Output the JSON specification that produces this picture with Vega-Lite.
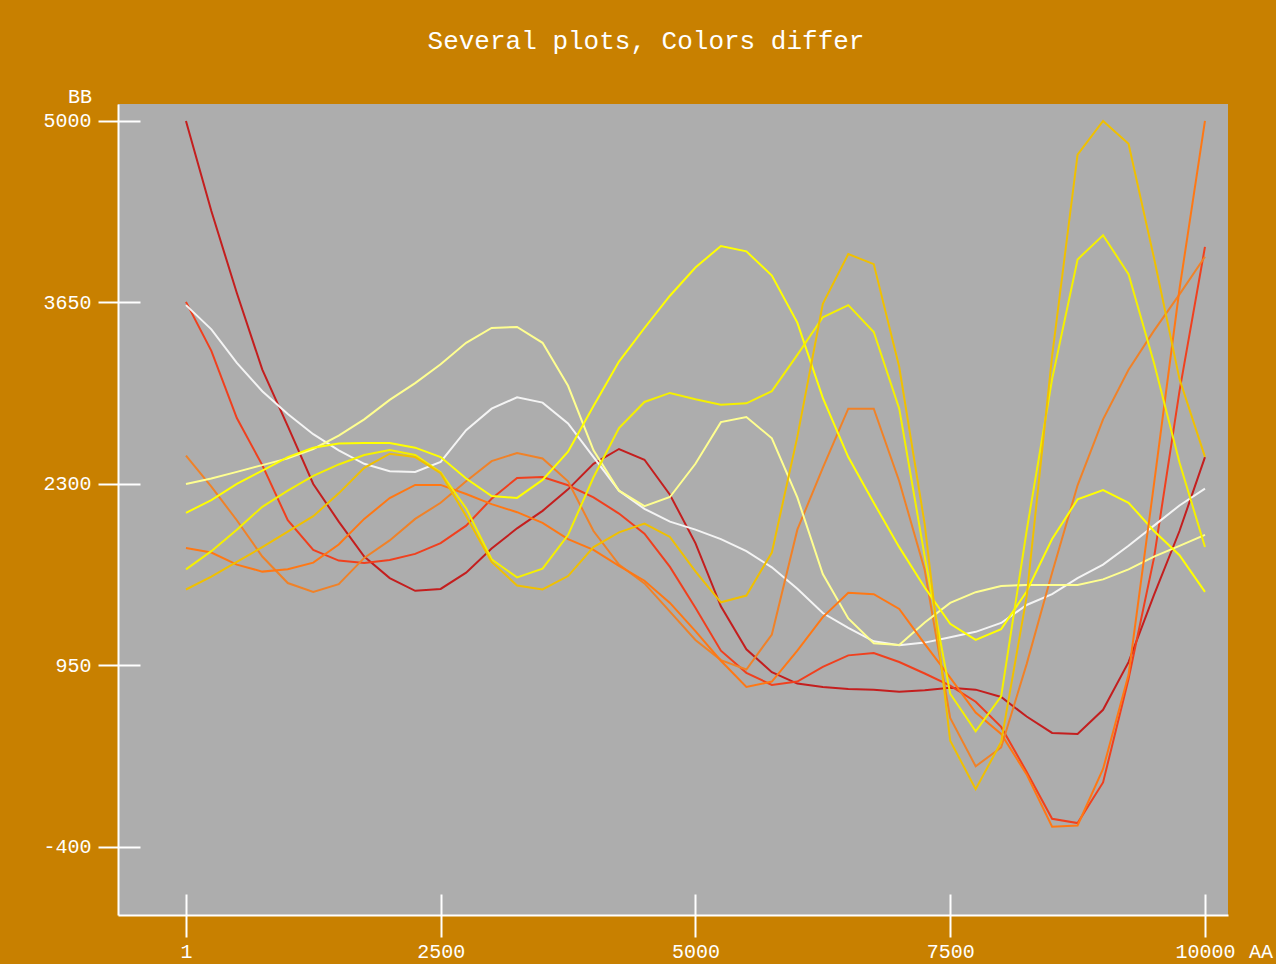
{
  "$schema": "https://vega.github.io/schema/vega-lite/v6.json",
  "width": 1110,
  "height": 811,
  "autosize": {"type": "none"},
  "padding": {"left": 118, "top": 104, "right": 48, "bottom": 49},
  "background": "#C88000",
  "config": {"view": {"fill": "#ADADAD", "stroke": null}, "font": "Liberation Mono"},
  "title": {
    "text": "Several plots, Colors differ",
    "color": "#FFFFFF",
    "font": "Liberation Mono",
    "fontSize": 26,
    "fontWeight": "normal",
    "anchor": "middle",
    "baseline": "alphabetic",
    "offset": 12,
    "dx": -27
  },
  "data": {
    "values": [
      {"x": 1, "c1": 5000, "c2": 3654, "c3": 3630, "c4": 2510, "c5": 2300, "c6": 2085, "c7": 1824, "c8": 1665, "c9": 1515},
      {"x": 250, "c1": 4330, "c2": 3290, "c3": 3450, "c4": 2280, "c5": 2340, "c6": 2180, "c7": 1790, "c8": 1800, "c9": 1610},
      {"x": 500, "c1": 3720, "c2": 2790, "c3": 3200, "c4": 2030, "c5": 2390, "c6": 2300, "c7": 1700, "c8": 1960, "c9": 1720},
      {"x": 750, "c1": 3150, "c2": 2440, "c3": 2990, "c4": 1760, "c5": 2440, "c6": 2400, "c7": 1648, "c8": 2130, "c9": 1830},
      {"x": 1000, "c1": 2730, "c2": 2030, "c3": 2820, "c4": 1563, "c5": 2490, "c6": 2500, "c7": 1665, "c8": 2250, "c9": 1945},
      {"x": 1250, "c1": 2300, "c2": 1810, "c3": 2670, "c4": 1497, "c5": 2560, "c6": 2570, "c7": 1715, "c8": 2360, "c9": 2060},
      {"x": 1500, "c1": 2020, "c2": 1730, "c3": 2550, "c4": 1555, "c5": 2660, "c6": 2600, "c7": 1850, "c8": 2445, "c9": 2230},
      {"x": 1750, "c1": 1760, "c2": 1712, "c3": 2450, "c4": 1750, "c5": 2780, "c6": 2605, "c7": 2040, "c8": 2515, "c9": 2420},
      {"x": 2000, "c1": 1600, "c2": 1735, "c3": 2395, "c4": 1880, "c5": 2925, "c6": 2605, "c7": 2195, "c8": 2553, "c9": 2525},
      {"x": 2250, "c1": 1505, "c2": 1780, "c3": 2389, "c4": 2040, "c5": 3050, "c6": 2570, "c7": 2293, "c8": 2515, "c9": 2500},
      {"x": 2500, "c1": 1519, "c2": 1860, "c3": 2464, "c4": 2160, "c5": 3190, "c6": 2500, "c7": 2293, "c8": 2385, "c9": 2380},
      {"x": 2750, "c1": 1640, "c2": 1990, "c3": 2700, "c4": 2320, "c5": 3350, "c6": 2340, "c7": 2225, "c8": 2120, "c9": 2060},
      {"x": 3000, "c1": 1820, "c2": 2190, "c3": 2860, "c4": 2470, "c5": 3460, "c6": 2210, "c7": 2150, "c8": 1740, "c9": 1720},
      {"x": 3250, "c1": 1970, "c2": 2345, "c3": 2945, "c4": 2530, "c5": 3468, "c6": 2196, "c7": 2090, "c8": 1605, "c9": 1545},
      {"x": 3500, "c1": 2100, "c2": 2352, "c3": 2905, "c4": 2490, "c5": 3350, "c6": 2330, "c7": 2010, "c8": 1670, "c9": 1515},
      {"x": 3750, "c1": 2260, "c2": 2290, "c3": 2750, "c4": 2320, "c5": 3030, "c6": 2540, "c7": 1890, "c8": 1920, "c9": 1615},
      {"x": 4000, "c1": 2450, "c2": 2200, "c3": 2500, "c4": 1950, "c5": 2550, "c6": 2880, "c7": 1810, "c8": 2350, "c9": 1830},
      {"x": 4250, "c1": 2560, "c2": 2080, "c3": 2250, "c4": 1700, "c5": 2250, "c6": 3210, "c7": 1690, "c8": 2715, "c9": 1940},
      {"x": 4500, "c1": 2480, "c2": 1930, "c3": 2115, "c4": 1560, "c5": 2135, "c6": 3460, "c7": 1580, "c8": 2910, "c9": 2005},
      {"x": 4750, "c1": 2220, "c2": 1683, "c3": 2020, "c4": 1350, "c5": 2203, "c6": 3700, "c7": 1415, "c8": 2977, "c9": 1906},
      {"x": 5000, "c1": 1860, "c2": 1380, "c3": 1960, "c4": 1140, "c5": 2450, "c6": 3910, "c7": 1205, "c8": 2930, "c9": 1650},
      {"x": 5250, "c1": 1390, "c2": 1060, "c3": 1890, "c4": 990, "c5": 2760, "c6": 4070, "c7": 985, "c8": 2890, "c9": 1420},
      {"x": 5500, "c1": 1070, "c2": 895, "c3": 1800, "c4": 920, "c5": 2798, "c6": 4030, "c7": 790, "c8": 2900, "c9": 1470},
      {"x": 5750, "c1": 900, "c2": 805, "c3": 1680, "c4": 1180, "c5": 2640, "c6": 3850, "c7": 830, "c8": 2990, "c9": 1790},
      {"x": 6000, "c1": 815, "c2": 830, "c3": 1520, "c4": 1960, "c5": 2200, "c6": 3500, "c7": 1060, "c8": 3260, "c9": 2650},
      {"x": 6250, "c1": 790, "c2": 939, "c3": 1340, "c4": 2420, "c5": 1630, "c6": 2940, "c7": 1310, "c8": 3540, "c9": 3640},
      {"x": 6500, "c1": 775, "c2": 1025, "c3": 1230, "c4": 2860, "c5": 1300, "c6": 2500, "c7": 1490, "c8": 3630, "c9": 4010},
      {"x": 6750, "c1": 770, "c2": 1043, "c3": 1130, "c4": 2860, "c5": 1115, "c6": 2160, "c7": 1480, "c8": 3430, "c9": 3935},
      {"x": 7000, "c1": 755, "c2": 976, "c3": 1100, "c4": 2320, "c5": 1103, "c6": 1830, "c7": 1370, "c8": 2860, "c9": 3170},
      {"x": 7250, "c1": 765, "c2": 890, "c3": 1120, "c4": 1660, "c5": 1270, "c6": 1530, "c7": 1110, "c8": 1760, "c9": 2000},
      {"x": 7500, "c1": 785, "c2": 800, "c3": 1160, "c4": 560, "c5": 1415, "c6": 1260, "c7": 860, "c8": 740, "c9": 390},
      {"x": 7750, "c1": 770, "c2": 680, "c3": 1200, "c4": 200, "c5": 1495, "c6": 1140, "c7": 600, "c8": 460, "c9": 30},
      {"x": 8000, "c1": 716, "c2": 493, "c3": 1266, "c4": 340, "c5": 1541, "c6": 1220, "c7": 440, "c8": 720, "c9": 380},
      {"x": 8250, "c1": 570, "c2": 160, "c3": 1400, "c4": 960, "c5": 1549, "c6": 1500, "c7": 140, "c8": 1950, "c9": 1460},
      {"x": 8500, "c1": 448, "c2": -190, "c3": 1480, "c4": 1640, "c5": 1549, "c6": 1890, "c7": -250, "c8": 3080, "c9": 3250},
      {"x": 8750, "c1": 440, "c2": -222, "c3": 1600, "c4": 2290, "c5": 1549, "c6": 2185, "c7": -240, "c8": 3970, "c9": 4750},
      {"x": 9000, "c1": 620, "c2": 80, "c3": 1700, "c4": 2780, "c5": 1590, "c6": 2255, "c7": 180, "c8": 4150, "c9": 5000},
      {"x": 9250, "c1": 975, "c2": 850, "c3": 1840, "c4": 3150, "c5": 1665, "c6": 2160, "c7": 880, "c8": 3860, "c9": 4830},
      {"x": 9500, "c1": 1475, "c2": 1750, "c3": 1990, "c4": 3440, "c5": 1760, "c6": 1950, "c7": 2300, "c8": 3200, "c9": 3980},
      {"x": 9750, "c1": 1950, "c2": 2990, "c3": 2140, "c4": 3710, "c5": 1840, "c6": 1770, "c7": 3750, "c8": 2460, "c9": 3080},
      {"x": 10000, "c1": 2500, "c2": 4063, "c3": 2265, "c4": 3990, "c5": 1921, "c6": 1497, "c7": 5000, "c8": 1831, "c9": 2501}
    ]
  },
  "transform": [{"fold": ["c1", "c2", "c3", "c4", "c5", "c6", "c7", "c8", "c9"], "as": ["series", "value"]}],
  "resolve": {"axis": {"x": "independent", "y": "independent"}},
  "layer": [
    {
      "mark": {"type": "line", "strokeWidth": 2, "clip": true},
      "encoding": {
        "x": {
          "field": "x", "type": "quantitative",
          "scale": {"domain": [-666, 10226], "nice": false, "zero": false},
          "axis": {
            "orient": "bottom", "values": [1, 2500, 5000, 7500, 10000], "format": "d",
            "grid": false, "domainColor": "#FFFFFF", "domainWidth": 2,
            "tickColor": "#FFFFFF", "tickWidth": 2, "tickSize": 22,
            "labelColor": "#FFFFFF", "labelFont": "Liberation Mono", "labelFontSize": 20,
            "labelBaseline": "alphabetic", "labelPadding": 20.7, "labelFlush": false, "labelOverlap": false,
            "title": "AA", "titleColor": "#FFFFFF", "titleFont": "Liberation Mono", "titleFontSize": 20,
            "titleFontWeight": "normal", "titleAlign": "center", "titleBaseline": "alphabetic",
            "titleX": 1142.5, "titleY": 42.7, "titleAnchor": null
          }
        },
        "y": {
          "field": "value", "type": "quantitative",
          "scale": {"domain": [-906, 5126], "nice": false, "zero": false},
          "axis": {
            "orient": "left", "values": [-400, 950, 2300, 3650, 5000], "format": "d",
            "labelExpr": "replace(datum.label, '−', '-')",
            "grid": false, "domainColor": "#FFFFFF", "domainWidth": 2,
            "tickColor": "#FFFFFF", "tickWidth": 2, "tickSize": 20,
            "labelColor": "#FFFFFF", "labelFont": "Liberation Mono", "labelFontSize": 20,
            "labelPadding": 7, "labelFlush": false, "labelOverlap": false,
            "title": "BB", "titleColor": "#FFFFFF", "titleFont": "Liberation Mono", "titleFontSize": 20,
            "titleFontWeight": "normal", "titleAngle": 0, "titleAlign": "center", "titleBaseline": "alphabetic",
            "titleX": -38.5, "titleY": -1.3, "titleAnchor": null
          }
        },
        "color": {
          "field": "series", "type": "nominal",
          "scale": {
            "domain": ["c1", "c2", "c3", "c4", "c5", "c6", "c7", "c8", "c9"],
            "range": ["#C41E1E", "#F0401E", "#F4F4F4", "#F08228", "#FFFF90", "#FFFF00", "#FF7814", "#F5F000", "#F0C000"]
          },
          "legend": null
        }
      }
    },
    {
      "mark": {"type": "point", "opacity": 0},
      "encoding": {
        "x": {
          "field": "x", "type": "quantitative",
          "axis": {
            "orient": "top", "offset": -811, "values": [1, 2500, 5000, 7500, 10000],
            "grid": false, "domain": false, "labels": false, "title": null,
            "tickColor": "#FFFFFF", "tickWidth": 2, "tickSize": 21
          }
        },
        "y": {
          "field": "value", "type": "quantitative",
          "axis": {
            "orient": "right", "offset": -1110, "values": [-400, 950, 2300, 3650, 5000],
            "grid": false, "domain": false, "labels": false, "title": null,
            "tickColor": "#FFFFFF", "tickWidth": 2, "tickSize": 22
          }
        }
      }
    }
  ]
}
